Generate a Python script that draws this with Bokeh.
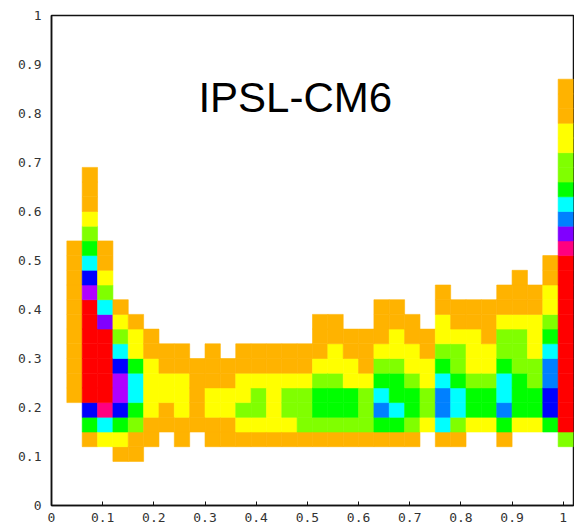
from bokeh.plotting import figure
from bokeh.models import Range1d, FixedTicker, LinearColorMapper, ColumnDataSource, Label
from bokeh.core.properties import value
from bokeh.embed import file_html
from bokeh.resources import INLINE

# ---- data -------------------------------------------------------------
BIN = 0.03                 # bin width in x and y
ROW0 = 3                   # index of the first row held in each column string
N_ROWS = 26                # rows 3 .. 28
LEVEL_CODES = "oylgcabvmpr"
LEVEL_COLORS = ["#FFB300", "#FFFF00", "#80FF00", "#00FF00", "#00FFFF",
                "#0080FF", "#0000FF", "#8000FF", "#B000FF", "#FF0080", "#FF0000"]

# one string per x bin (bin 0 .. 33); characters run from row 3 upward
COLUMNS = [
    "",
    "....ooooooooooo",
    ".ogbrrrrrrrmbcglyooo",
    ".ycprrrrrvclyoo",
    "oygbmmbclyo",
    "oolgccgyyo",
    ".ooyyyyoo",
    "..ooyyoo",
    ".ooyyyoo",
    "..ooooo",
    ".ooyyooo",
    ".ooyyoo",
    ".oylyyoo",
    ".oyllyoo",
    ".oyyyyoo",
    ".oyllyoo",
    ".olllyoo",
    ".olgglyooo",
    ".olgglyyoo",
    ".olggyyoo",
    ".olllyooo",
    ".ogacglyooo",
    ".ogcgglyyoo",
    ".olgglyyoo",
    "..yllyyoo",
    ".ocaacglyyoo",
    ".olccgllyoo",
    "..ygglyyyoo",
    "..ygglyyooo",
    ".ogaccgllyoo",
    "..yggglllyooo",
    "..yggllyyyoo",
    "..gbbaacglyyoo",
    ".lrrrrrrrrrrrrpvacgllyyooo",
]

X_TICKS = [0, 0.1, 0.2, 0.3, 0.4, 0.5, 0.6, 0.7, 0.8, 0.9, 1.0]
X_TICK_LABELS = ["0", "0.1", "0.2", "0.3", "0.4", "0.5", "0.6", "0.7", "0.8", "0.9", "1"]
Y_TICKS = [0, 0.1, 0.2, 0.3, 0.4, 0.5, 0.6, 0.7, 0.8, 0.9, 1.0]
Y_TICK_LABELS = ["0", "0.1", "0.2", "0.3", "0.4", "0.5", "0.6", "0.7", "0.8", "0.9", "1"]
TITLE = "IPSL-CM6"

# ---- build cells ------------------------------------------------------
left, right, bottom, top, level = [], [], [], [], []
for i, col in enumerate(COLUMNS):
    col = col.ljust(N_ROWS, ".")
    for k, ch in enumerate(col):
        if ch == ".":
            continue
        left.append(i * BIN)
        right.append((i + 1) * BIN)
        bottom.append((ROW0 + k) * BIN)
        top.append((ROW0 + k + 1) * BIN)
        level.append(LEVEL_CODES.index(ch) + 1)

src = ColumnDataSource(dict(left=left, right=right, bottom=bottom, top=top, level=level))
mapper = LinearColorMapper(palette=LEVEL_COLORS, low=0.5, high=len(LEVEL_COLORS) + 0.5)

p = figure(width=574, height=532, output_backend="svg", toolbar_location=None,
           x_range=Range1d(0, 1.02), y_range=Range1d(0, 1.0),
           min_border_left=51, min_border_right=1, min_border_top=15, min_border_bottom=27)
p.background_fill_color = "white"
p.border_fill_color = "white"
p.outline_line_color = "#111111"
p.outline_line_width = 1.5
p.grid.visible = False

p.quad(left="left", right="right", bottom="bottom", top="top", source=src,
       fill_color={"field": "level", "transform": mapper},
       line_color={"field": "level", "transform": mapper}, line_width=0.6)

for ax, ticks, labels in ((p.xaxis, X_TICKS, X_TICK_LABELS), (p.yaxis, Y_TICKS, Y_TICK_LABELS)):
    ax.ticker = FixedTicker(ticks=ticks)
    ax.major_label_overrides = {t: s for t, s in zip(ticks, labels)}
    ax.axis_line_color = "#111111"
    ax.axis_line_width = 1.5
    ax.minor_tick_line_color = None
    ax.major_tick_out = 0
    ax.major_label_text_font = "DejaVu Sans Mono"
    ax.major_label_text_font_size = "13px"
    ax.major_label_text_color = "#333333"
p.xaxis.major_tick_in = 4
p.xaxis.major_tick_line_color = "#111111"
p.xaxis.major_label_standoff = 7
p.yaxis.major_tick_in = 0
p.yaxis.major_label_standoff = 10

p.add_layout(Label(x=0.287, y=0.833, text=TITLE, text_align="left", text_baseline="alphabetic",
                   text_font="Liberation Sans", text_font_size="42px", text_color="black"))

open("out.html", "w").write(file_html(p, INLINE))
